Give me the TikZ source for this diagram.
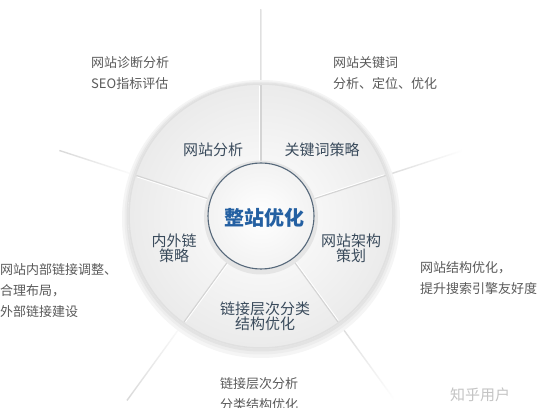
\documentclass[tikz,border=0pt]{standalone}
\usepackage{fontspec}
\newfontfamily\cjk{Noto Sans CJK SC}
\definecolor{labelcol}{HTML}{3A4B5C}
\definecolor{outercol}{HTML}{5A5A5A}
\definecolor{titlecol}{HTML}{2460A2}
\definecolor{ringcol}{HTML}{D4D4D4}
\definecolor{innerborder}{HTML}{56687A}
\definecolor{markcol}{HTML}{C4C4C4}
\tikzset{
  seglabel/.style={font=\cjk\fontsize{15}{15}\selectfont, text=labelcol, align=center, inner sep=0pt},
  outertext/.style={font=\cjk\fontsize{13}{21}\selectfont, text=outercol, align=left, inner sep=0pt, anchor=west},
  raybar/.style={left color=black!15, right color=white},
  rayin/.style={draw=ringcol, line width=1.2pt},
}
\begin{document}
\begin{tikzpicture}[x=1pt,y=1pt]
\useasboundingbox (0,0) rectangle (538,407);
\fill[white] (0,0) rectangle (538,407);
\coordinate (c) at (261,191);
\begin{scope}[shift={(261,191)}]
  % rays outside the disc, fading out
  \foreach \a/\l in {90/206, 18/212, 162/212, 234/228, 306/226}{
    \shade[raybar, rotate=\a] (128,-0.7) rectangle (\l,0.7);
  }
  % soft shadow of the disc
  \fill[black!4] (0,-3) circle (139);
  \fill[black!7] (0,-2) circle (136.5);
  \fill[black!11] (0,-1) circle (134.5);
  % disc
  \shade[inner color=white, outer color=black!8] (0,0) circle (133);
  \draw[black!12, line width=1.5pt] (0,0) circle (132);
  % dividers inside the ring
  \foreach \a in {90,18,162,234,306}{
    \draw[rayin] (\a:53) -- (\a:131);
    \draw[white, line width=0.8pt] ([shift={(\a+90:1.2)}]\a:54) -- ([shift={(\a+90:1.2)}]\a:130);
  }
  % inner circle
  \fill[black!10] (0,-1.5) circle (57);
  \shade[inner color=white, outer color=black!5] (0,0) circle (53);
  \draw[innerborder, line width=1.1pt] (0,0) circle (53);
\end{scope}

% centre title
\node[font=\cjk\bfseries\fontsize{20}{20}\selectfont, text=titlecol, inner sep=0pt] (title) at (264,189) {整站优化};

% segment labels
\node[seglabel] (s1) at (213,257) {网站分析};
\node[seglabel] (s2) at (322,257) {关键词策略};
\node[seglabel] (s3) at (174,159) {内外链\\策略};
\node[seglabel] (s4) at (351,159) {网站架构\\策划};
\node[seglabel] (s5) at (265,91) {链接层次分类\\结构优化};

% outer texts
\node[outertext] (o1) at (91,334) {网站诊断分析\\SEO指标评估};
\node[outertext] (o2) at (333,334) {网站关键词\\分析、定位、优化};
\node[outertext] (o3) at (0,116) {网站内部链接调整、\\合理布局，\\外部链接建设};
\node[outertext] (o4) at (420,129) {网站结构优化，\\提升搜索引擎友好度};
\node[outertext] (o5) at (220,13) {链接层次分析\\分类结构优化};

% watermark
\node[font=\cjk\fontsize{15}{15}\selectfont, text=markcol, inner sep=0pt, anchor=west] (wm) at (450,12) {知乎用户};
\end{tikzpicture}
\end{document}
